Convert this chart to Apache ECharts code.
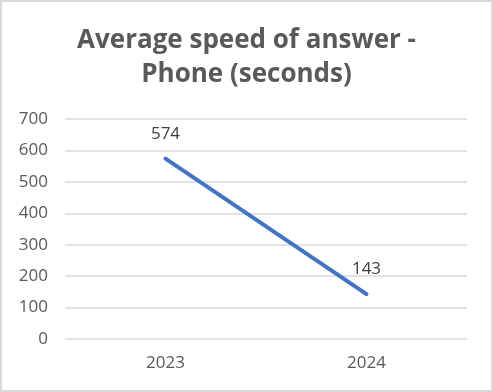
<!DOCTYPE html>
<html><head><meta charset="utf-8">
<script src="https://cdn.jsdelivr.net/npm/echarts@6/dist/echarts.min.js"></script>
<style>html,body{margin:0;padding:0;background:#fff}#c{width:493px;height:392px;box-sizing:border-box;border:2px solid #d9d9d9}</style>
</head><body><div id="c"></div>
<script>
const categories = ['2023', '2024'];
const values = [574, 143];
const yTicks = [0, 100, 200, 300, 400, 500, 600, 700];
const chart = echarts.init(document.getElementById('c'));
chart.setOption({
  animation: false,
  title: {
    text: 'Average speed of answer -\nPhone (seconds)',
    left: 'center', top: 17,
    textStyle: {fontFamily: 'Open Sans', fontWeight: 'bold', fontSize: 26, color: '#595959', lineHeight: 34}
  },
  grid: {left: 63, right: 24, top: 117, bottom: 51},
  xAxis: {
    type: 'category', data: categories, boundaryGap: true,
    axisLine: {show: false}, axisTick: {show: false},
    axisLabel: {fontFamily: 'Open Sans', fontSize: 17, color: '#595959', margin: 16}
  },
  yAxis: {
    type: 'value', min: yTicks[0], max: yTicks[yTicks.length - 1], interval: 100,
    axisLine: {show: false}, axisTick: {show: false},
    splitLine: {lineStyle: {color: '#d9d9d9', width: 1.5}},
    axisLabel: {fontFamily: 'Open Sans', fontSize: 17, color: '#595959', margin: 17}
  },
  series: [{
    type: 'line', data: values, showSymbol: true, symbol: 'circle', symbolSize: 2,
    itemStyle: {color: 'rgba(68,114,196,0)', borderWidth: 0},
    lineStyle: {color: '#4472C4', width: 4, cap: 'round'},
    label: {show: true, position: 'top', distance: 15, fontFamily: 'Open Sans', fontSize: 17, color: '#404040'}
  }]
});
</script></body></html>
